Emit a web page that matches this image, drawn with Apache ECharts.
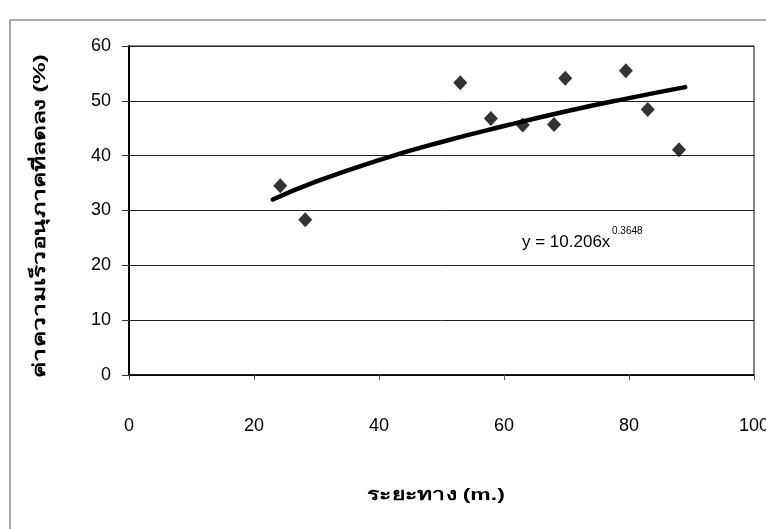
<!DOCTYPE html>
<html>
<head>
<meta charset="utf-8">
<script src="https://cdn.jsdelivr.net/npm/echarts@6/dist/echarts.min.js"></script>
<style>
  html, body { margin: 0; padding: 0; background: #fff; }
  #main { width: 766px; height: 529px; }
</style>
</head>
<body>
<div id="main"></div>
<script>
// measured points (distance m., % reduction)
const distX = [24.2, 28.2, 53.0, 57.9, 63.0, 68.0, 69.8, 79.5, 83.0, 88.0];
const reductionY = [34.5, 28.3, 53.3, 46.8, 45.6, 45.7, 54.1, 55.5, 48.4, 41.1];

// power trend line
const trendX = [23, 30, 40, 50, 60, 70, 80, 89];
const trendY = [32.0, 35.3, 39.2, 42.5, 45.4, 48.1, 50.5, 52.5];

const xTicks = { min: 0, max: 100, interval: 20 };
const yTicks = { min: 0, max: 60, interval: 10 };

const xTitle = "ระยะทาง (m.)";
const yTitle = "ค่าความเร็วอนุภาคที่ลดลง (%)";
const eqMain = "y = 10.206x";
const eqPow = "0.3648";

const font = "'Liberation Sans', Arial, sans-serif";

const chart = echarts.init(document.getElementById("main"));

// thai text renders narrower here than in the original, so stretch it along the baseline
const titleStyle = { fontFamily: font, fontSize: 17, fontWeight: "bold", fill: "#000", align: "center", verticalAlign: "middle" };

const option = {
    backgroundColor: "#fff",
    animation: false,
    grid: {
        left: 129, top: 46, right: 12, bottom: 154,
        containLabel: false,
        outerBoundsMode: "none",
        show: true, borderColor: "#111", borderWidth: 1
    },
    xAxis: {
        type: "value",
        min: xTicks.min, max: xTicks.max, interval: xTicks.interval,
        axisLine: { show: true, onZero: false, lineStyle: { color: "#000", width: 1.5 } },
        axisTick: { show: true, length: 5, lineStyle: { color: "#555" } },
        axisLabel: { color: "#000", fontFamily: font, fontSize: 18, margin: 42 },
        splitLine: { show: false }
    },
    yAxis: {
        type: "value",
        min: yTicks.min, max: yTicks.max, interval: yTicks.interval,
        axisLine: { show: true, onZero: false, lineStyle: { color: "#000", width: 2 } },
        axisTick: { show: true, length: 7, lineStyle: { color: "#333" } },
        axisLabel: { color: "#000", fontFamily: font, fontSize: 18, margin: 18 },
        splitLine: { show: true, lineStyle: { color: "#222", width: 1 } }
    },
    graphic: [
        {
            type: "rect",
            shape: { x: 10, y: 20, width: 800, height: 560 },
            style: { fill: "none", stroke: "#555", lineWidth: 1 },
            silent: true
        },
        {
            type: "text",
            x: 40, y: 216, rotation: Math.PI / 2, scaleX: 1.45,
            style: Object.assign({ text: yTitle }, titleStyle)
        },
        {
            type: "text",
            x: 436, y: 495, scaleX: 1.35,
            style: Object.assign({ text: xTitle }, titleStyle)
        },
        {
            type: "text",
            left: 522, top: 234,
            style: { text: eqMain, fontFamily: font, fontSize: 17, fill: "#000" }
        },
        {
            type: "text",
            left: 612, top: 226,
            style: { text: eqPow, fontFamily: font, fontSize: 10, fill: "#000" }
        }
    ],
    series: [
        {
            type: "line",
            data: trendX.map((x, i) => [x, trendY[i]]),
            smooth: true,
            symbol: "none",
            lineStyle: { color: "#000", width: 4.5, cap: "round" },
            z: 2
        },
        {
            type: "scatter",
            data: distX.map((x, i) => [x, reductionY[i]]),
            symbol: "diamond",
            symbolSize: [14, 15],
            itemStyle: { color: "#000" },
            z: 3
        }
    ]
};

chart.setOption(option);
</script>
</body>
</html>
